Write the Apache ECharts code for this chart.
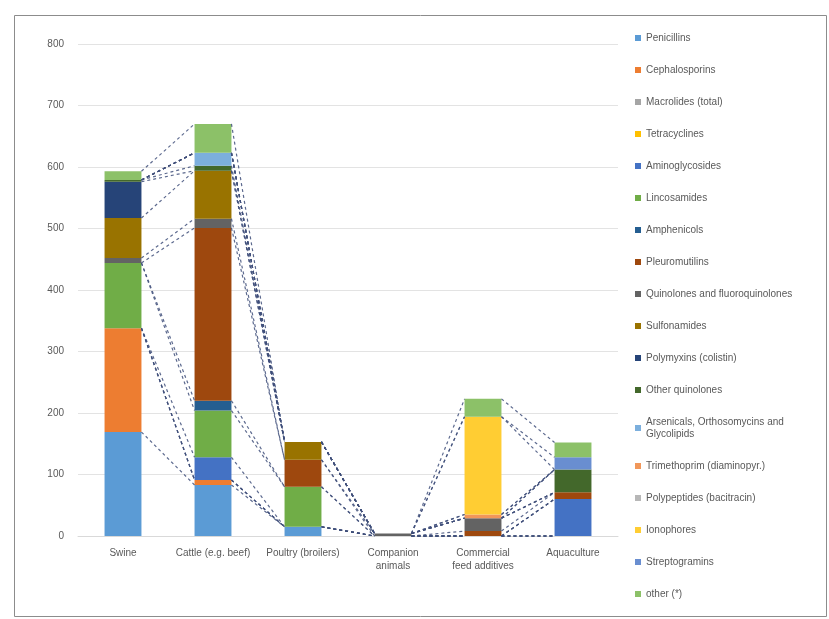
<!DOCTYPE html>
<html>
<head>
<meta charset="utf-8">
<script src="https://cdn.jsdelivr.net/npm/echarts@6/dist/echarts.min.js"></script>
<style>
  html, body { margin: 0; padding: 0; background: #fff; }
  #chart { width: 829px; height: 619px; }
</style>
</head>
<body>
<div id="chart"></div>
<script>
const categories = ['Swine', 'Cattle (e.g. beef)', 'Poultry (broilers)', 'Companion\nanimals', 'Commercial\nfeed additives', 'Aquaculture']

const seriesNames = [
    'Penicillins',
    'Cephalosporins',
    'Macrolides (total)',
    'Tetracyclines',
    'Aminoglycosides',
    'Lincosamides',
    'Amphenicols',
    'Pleuromutilins',
    'Quinolones and fluoroquinolones',
    'Sulfonamides',
    'Polymyxins (colistin)',
    'Other quinolones',
    'Arsenicals, Orthosomycins and\nGlycolipids',
    'Trimethoprim (diaminopyr.)',
    'Polypeptides (bacitracin)',
    'Ionophores',
    'Streptogramins',
    'other (*)'
]

const colors = ['#5B9BD5', '#ED7D31', '#A5A5A5', '#FFC000', '#4472C4', '#70AD47',
    '#255E91', '#9E480E', '#636363', '#997300', '#264478', '#43682B',
    '#7CAFDD', '#F1975A', '#B7B7B7', '#FFCD33', '#698ED0', '#8CC168']

// one array per series, values per category
const s1 = [169, 83, 15, 0, 0, 0]
const s2 = [169, 8, 0, 0, 0, 0]
const s3 = [0, 0, 0, 0, 0, 0]
const s4 = [0, 0, 0, 0, 0, 0]
const s5 = [0, 37, 0, 0, 0, 60]
const s6 = [106, 76, 65, 0, 0, 0]
const s7 = [0, 16, 0, 0, 0, 0]
const s8 = [0, 281, 44, 0, 8, 11]
const s9 = [8, 15, 0, 4, 21, 0]
const s10 = [65, 78, 29, 0, 0, 0]
const s11 = [59, 0, 0, 0, 0, 0]
const s12 = [3, 8, 0, 0, 0, 37]
const s13 = [0, 21, 0, 0, 0, 0]
const s14 = [0, 0, 0, 0, 6, 0]
const s15 = [0, 0, 0, 0, 0, 0]
const s16 = [0, 0, 0, 0, 159, 0]
const s17 = [0, 0, 0, 0, 0, 20]
const s18 = [14, 47, 0, 0, 29, 24]
const values = [s1, s2, s3, s4, s5, s6, s7, s8, s9, s10, s11, s12, s13, s14, s15, s16, s17, s18]

const yTicks = [0, 100, 200, 300, 400, 500, 600, 700, 800]

// stack tops for the series lines
const tops = values.map((v, i) => categories.map((c, j) => {
    let sum = 0
    for (let k = 0; k <= i; k++) sum += values[k][j]
    return sum
}))

const lineData = []
tops.forEach((row, i) => {
    for (let j = 0; j < categories.length - 1; j++) {
        lineData.push([j, row[j], row[j + 1]])
    }
})

const BAR_FRAC = 0.41

const chartDom = document.getElementById('chart')
const myChart = echarts.init(chartDom)

const option = {
    color: colors,
    animation: false,
    textStyle: { fontFamily: 'Liberation Sans, Arial, sans-serif' },
    graphic: [{
        type: 'rect',
        shape: { x: 14.5, y: 15.5, width: 812, height: 601 },
        style: { fill: 'none', stroke: '#8c8c8c', lineWidth: 1 },
        silent: true
    }],
    grid: { left: 78, right: 211, top: 44, bottom: 83 },
    legend: {
        orient: 'vertical',
        left: 630,
        top: 27,
        itemWidth: 6,
        itemHeight: 6,
        itemGap: 20,
        icon: 'rect',
        textStyle: { fontSize: 10, color: '#595959', lineHeight: 12 },
        data: seriesNames
    },
    xAxis: {
        type: 'category',
        data: categories,
        axisTick: { show: false },
        axisLine: { lineStyle: { color: '#D9D9D9' } },
        axisLabel: { color: '#595959', fontSize: 10, interval: 0, margin: 11, lineHeight: 13 }
    },
    yAxis: {
        type: 'value',
        min: yTicks[0],
        max: yTicks[yTicks.length - 1],
        interval: 100,
        axisLabel: { color: '#595959', fontSize: 10, margin: 14 },
        splitLine: { lineStyle: { color: '#E3E3E3' } },
        axisLine: { show: false },
        axisTick: { show: false }
    },
    series: seriesNames.map((name, i) => ({
        name: name,
        type: 'bar',
        stack: 'total',
        barWidth: (BAR_FRAC * 100) + '%',
        data: values[i]
    })).concat([{
        type: 'custom',
        silent: true,
        z: 5,
        data: lineData,
        encode: { x: 0, y: 1 },
        renderItem: (params, api) => {
            const j = api.value(0)
            const half = api.size([1, 0])[0] * BAR_FRAC / 2
            const p1 = api.coord([j, api.value(1)])
            const p2 = api.coord([j + 1, api.value(2)])
            return {
                type: 'line',
                shape: { x1: p1[0] + half, y1: p1[1], x2: p2[0] - half, y2: p2[1] },
                style: { stroke: '#3f4f7a', lineWidth: 1.2, lineDash: [3, 3], opacity: 0.85 }
            }
        }
    }])
}

myChart.setOption(option)
</script>
</body>
</html>
